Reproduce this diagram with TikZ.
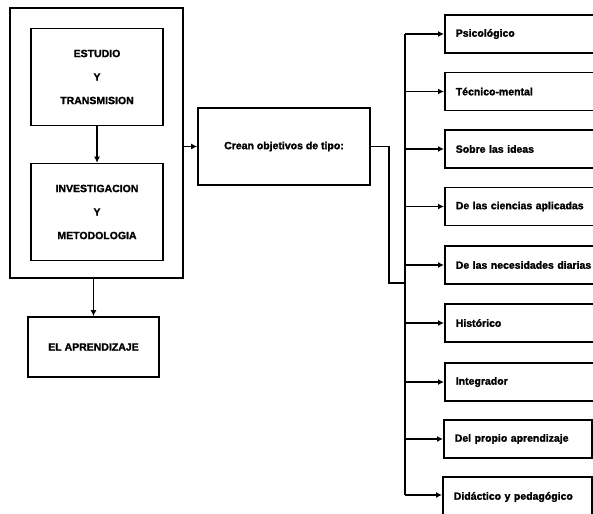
\documentclass[tikz,border=0pt]{standalone}
\usepackage{fontspec}
\setmainfont{Liberation Sans}[BoldFeatures={FakeBold=1.6}]
\usetikzlibrary{arrows.meta}
\tikzset{
  box/.style={draw, line width=1.6pt, inner sep=0pt, font=\bfseries\fontsize{10.5}{12}\selectfont, align=center},
  rbox/.style={draw, line width=1.6pt, anchor=west, minimum height=38pt, minimum width=160pt,
               inner xsep=11pt, inner ysep=0pt, text width=138pt, align=left,
               font=\bfseries\fontsize{10.5}{12}\selectfont},
  conn/.style={line width=1.6pt},
  arr/.style={line width=1.6pt, -{Latex[length=6pt,width=6pt]}}
}
\begin{document}
\begin{tikzpicture}[x=1pt,y=-1pt]
\useasboundingbox (0,0) rectangle (593,513);
% left group
\node[box, minimum width=173pt, minimum height=270pt] (outer) at (96.5,143) {};
\node[box, minimum width=132pt, minimum height=97pt] (est) at (97,77) {ESTUDIO\\[11.5pt]Y\\[11.5pt]TRANSMISION};
\node[box, minimum width=132pt, minimum height=97pt] (inv) at (97,212) {INVESTIGACION\\[11.5pt]Y\\[11.5pt]METODOLOGIA};
\node[box, minimum width=131pt, minimum height=60pt] (apr) at (93.5,347) {EL APRENDIZAJE};
\node[box, minimum width=172pt, minimum height=77pt] (crean) at (284,146.5) {Crean objetivos de tipo:};
\draw[arr] (est.south) -- (inv.north);
\draw[arr] (apr.north |- outer.south) -- (apr.north);
\draw[arr] (outer.east |- crean.west) -- (crean.west);
% right boxes
\node[rbox] (b1) at (444,34) {Psicológico};
\node[rbox] (b2) at (444,91.5) {Técnico-mental};
\node[rbox] (b3) at (444,149) {Sobre las ideas};
\node[rbox] (b4) at (444,206.5) {\mbox{De las ciencias aplicadas}};
\node[rbox] (b5) at (444,265) {\mbox{De las necesidades diarias}};
\node[rbox] (b6) at (444,323) {Histórico};
\node[rbox] (b7) at (444,382) {Integrador};
\node[rbox, minimum width=148pt, text width=126pt] (b8) at (443,439) {\mbox{Del propio aprendizaje}};
\node[rbox, minimum width=149pt, text width=127pt, minimum height=40pt] (b9) at (442,497) {\mbox{Didáctico y pedagógico}};
% bus
\coordinate (busT) at (405,34);
\coordinate (busB) at (405,495);
\coordinate (join) at (405,283);
\draw[conn] (busT) -- (busB);
\draw[conn] (crean.east) -- ++(18,0) |- (join);
\foreach \b in {b1,b2,b3,b4,b5,b6,b7,b8}{
  \draw[arr] (busT |- \b.west) -- (\b.west);
}
\draw[arr] (busB) -- (busB -| b9.west);
\end{tikzpicture}
\end{document}
